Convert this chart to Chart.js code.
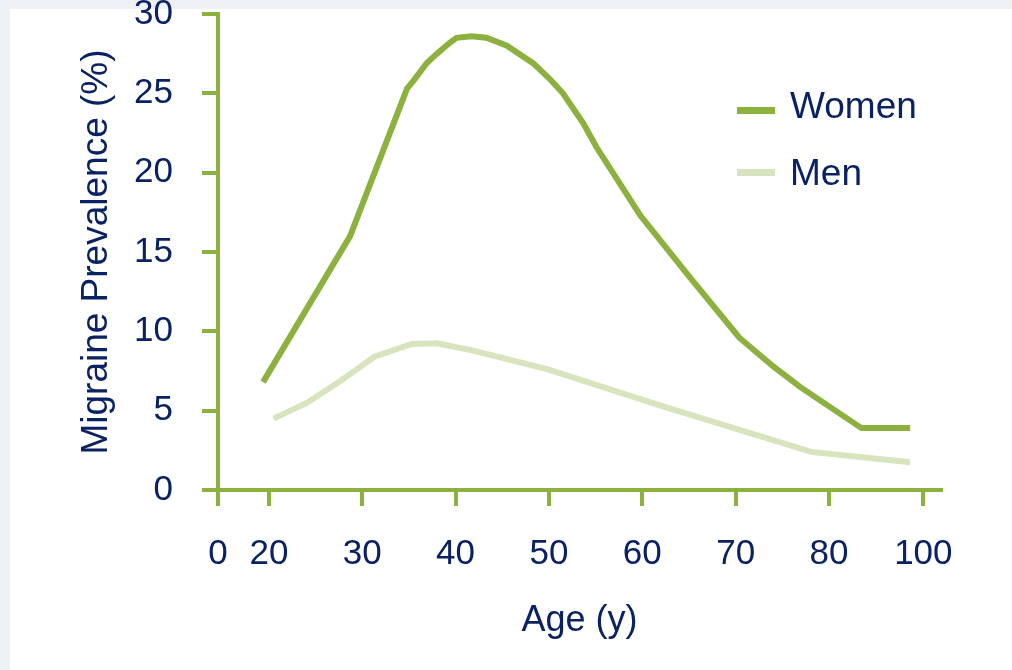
<!DOCTYPE html>
<html>
<head>
<meta charset="utf-8">
<script src="https://cdn.jsdelivr.net/npm/chart.js@4.4.1/dist/chart.umd.min.js"></script>
<style>
  html, body { margin: 0; padding: 0; }
  body { width: 1012px; height: 670px; background: #EEF2F6; position: relative; overflow: hidden; }
  #panel { position: absolute; left: 10px; top: 9px; right: 0; bottom: 0; background: #ffffff; }
  #wrap { position: absolute; left: 0; top: 0; width: 1012px; height: 670px; }
</style>
</head>
<body>
<div id="panel"></div>
<div id="wrap"><canvas id="c" width="1012" height="670"></canvas></div>
<script>
// Age axis stops and their labels
const ageStops = [0, 20, 30, 40, 50, 60, 70, 80, 100];
const ageTickLabels = ['0', '20', '30', '40', '50', '60', '70', '80', '100'];
// Prevalence axis ticks
const prevalenceTicks = [0, 5, 10, 15, 20, 25, 30];

// Women: age (y) and migraine prevalence (%)
const womenAges = [17.7, 28.7, 34.8, 35.5, 36.9, 38.0, 39.4, 40.1, 41.7, 43.3, 45.5, 48.3, 50.1, 51.5, 53.7, 55.1, 59.8, 65.1, 70.4, 74.0, 76.9, 86.9, 97.2];
const womenPrevalence = [6.8, 16.0, 25.3, 25.8, 26.9, 27.5, 28.2, 28.5, 28.6, 28.5, 28.0, 26.9, 25.9, 25.0, 23.1, 21.6, 17.3, 13.4, 9.6, 7.8, 6.5, 3.9, 3.9];

// Men: age (y) and migraine prevalence (%)
const menAges = [20.5, 24.1, 27.5, 31.3, 35.3, 38.0, 41.8, 49.9, 62.3, 78.1, 97.2];
const menPrevalence = [4.5, 5.5, 6.8, 8.4, 9.2, 9.25, 8.8, 7.6, 5.25, 2.4, 1.75];

const seriesNames = ['Women', 'Men'];

const GREEN = '#8CB13F';
const LIGHT_GREEN = '#D7E4BD';
const NAVY = '#0A2263';
const FONT = "'Liberation Sans', Arial, sans-serif";

// Where each age stop sits along the axis, in decade-sized slots:
// 20..80 are evenly spaced, 0 and 100 are squeezed in at either end.
const stopSlots = [-0.545, 0, 1, 2, 3, 4, 5, 6, 7.011];

function ageToSlot(a) {
  const n = ageStops.length;
  let i = 0;
  if (a >= ageStops[n - 1]) i = n - 2;
  else if (a > ageStops[0]) { while (a > ageStops[i + 1]) i++; }
  const t = (a - ageStops[i]) / (ageStops[i + 1] - ageStops[i]);
  return stopSlots[i] + t * (stopSlots[i + 1] - stopSlots[i]);
}
function slotToAge(s) {
  const n = stopSlots.length;
  let i = 0;
  if (s >= stopSlots[n - 1]) i = n - 2;
  else if (s > stopSlots[0]) { while (s > stopSlots[i + 1]) i++; }
  const t = (s - stopSlots[i]) / (stopSlots[i + 1] - stopSlots[i]);
  return ageStops[i] + t * (ageStops[i + 1] - ageStops[i]);
}

// Linear scale whose value-to-pixel mapping is piecewise between the age stops
class AgeStepScale extends Chart.LinearScale {
  static id = 'ageStep';
  getPixelForValue(value) {
    if (value === null || value === undefined || isNaN(value)) return NaN;
    const s0 = ageToSlot(this.min), s1 = ageToSlot(this.max);
    return this.getPixelForDecimal((ageToSlot(value) - s0) / (s1 - s0));
  }
  getValueForPixel(pixel) {
    const s0 = ageToSlot(this.min), s1 = ageToSlot(this.max);
    return slotToAge(s0 + this.getDecimalForPixel(pixel) * (s1 - s0));
  }
}
Chart.register(AgeStepScale);

// Legend drawn to the right inside the plot area
const sideLegend = {
  id: 'sideLegend',
  afterDraw(chart, args, opts) {
    const ctx = chart.ctx;
    chart.data.datasets.forEach((ds, i) => {
      const row = opts.rows[i];
      ctx.save();
      ctx.strokeStyle = ds.borderColor;
      ctx.lineWidth = opts.swatchWidth;
      ctx.lineCap = 'butt';
      ctx.beginPath();
      ctx.moveTo(opts.swatchX, row.swatchY);
      ctx.lineTo(opts.swatchX + opts.swatchLength, row.swatchY);
      ctx.stroke();
      ctx.fillStyle = NAVY;
      ctx.font = opts.fontSize + 'px ' + FONT;
      ctx.textBaseline = 'middle';
      ctx.textAlign = 'left';
      ctx.fillText(ds.label, opts.textX, row.textY);
      ctx.restore();
    });
  }
};

const toPoints = (xs, ys) => xs.map((x, i) => ({ x: x, y: ys[i] }));

const axisGrid = {
  drawOnChartArea: false,
  drawTicks: true,
  tickLength: 16,
  tickWidth: 4,
  tickColor: GREEN,
  color: GREEN,
  lineWidth: 4
};

new Chart(document.getElementById('c'), {
  type: 'line',
  data: {
    datasets: [
      {
        label: seriesNames[0],
        data: toPoints(womenAges, womenPrevalence),
        borderColor: GREEN,
        backgroundColor: GREEN,
        borderWidth: 6,
        pointRadius: 0,
        tension: 0,
        fill: false
      },
      {
        label: seriesNames[1],
        data: toPoints(menAges, menPrevalence),
        borderColor: LIGHT_GREEN,
        backgroundColor: LIGHT_GREEN,
        borderWidth: 6,
        pointRadius: 0,
        tension: 0,
        fill: false
      }
    ]
  },
  options: {
    responsive: false,
    devicePixelRatio: 1,
    animation: false,
    layout: { padding: { top: 14, right: 71, bottom: 0, left: 0 } },
    plugins: {
      legend: { display: false },
      tooltip: { enabled: false },
      sideLegend: {
        swatchX: 737,
        swatchLength: 38,
        swatchWidth: 7,
        textX: 790,
        fontSize: 37,
        rows: [
          { swatchY: 110.5, textY: 108 },
          { swatchY: 172.5, textY: 175 }
        ]
      }
    },
    scales: {
      x: {
        type: 'ageStep',
        min: 0,
        max: 103.74,
        afterBuildTicks: s => { s.ticks = ageStops.map(v => ({ value: v })); },
        afterFit: s => { s.height = 180; s.paddingLeft = 0; s.paddingRight = 0; },
        border: { display: true, color: GREEN, width: 4 },
        grid: axisGrid,
        ticks: {
          autoSkip: false,
          maxRotation: 0,
          padding: 27,
          color: NAVY,
          font: { family: FONT, size: 35 },
          callback: (v, i) => ageTickLabels[i]
        },
        title: {
          display: true,
          text: 'Age (y)',
          color: NAVY,
          font: { family: FONT, size: 36 },
          padding: { top: 0, bottom: 27 }
        }
      },
      y: {
        type: 'linear',
        min: 0,
        max: 30,
        afterBuildTicks: s => { s.ticks = prevalenceTicks.map(v => ({ value: v })); },
        afterFit: s => { s.width = 218; s.paddingTop = 0; s.paddingBottom = 0; },
        border: { display: true, color: GREEN, width: 4 },
        grid: axisGrid,
        ticks: {
          padding: 29,
          color: NAVY,
          font: { family: FONT, size: 35 },
          callback: v => String(v)
        },
        title: {
          display: true,
          text: 'Migraine Prevalence (%)',
          color: NAVY,
          font: { family: FONT, size: 37 },
          padding: { top: 75, bottom: 0 }
        }
      }
    }
  },
  plugins: [sideLegend]
});
</script>
</body>
</html>
